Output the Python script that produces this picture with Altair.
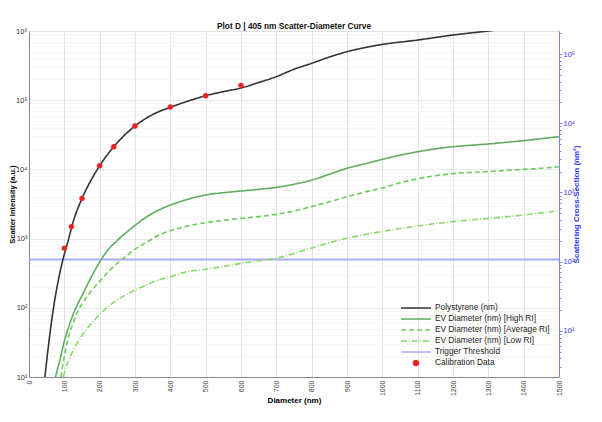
import altair as alt
import pandas as pd
import numpy as np

# ---------------- data ----------------
series_names = ["Polystyrene (nm)", "EV Diameter (nm) [High RI]",
                "EV Diameter (nm) [Average RI]", "EV Diameter (nm) [Low RI]",
                "Trigger Threshold", "Calibration Data"]

ps_d = [45, 55, 65, 75, 85, 97, 110, 125, 150, 175, 200, 240, 300, 350, 400, 450, 500,
        550, 600, 650, 700, 750, 800, 850, 900, 950, 1000, 1100, 1200, 1300, 1400, 1500]
ps_i = [10, 28, 70, 150, 280, 520, 900, 1750, 3800, 6900, 11300, 21300, 42400, 62000,
        79000, 97000, 116000, 133000, 150000, 180000, 219000, 280000, 341000, 420000,
        502000, 575000, 640000, 740000, 875000, 1000000, 1150000, 1300000]

hi_d = [75, 90, 100, 115, 130, 150, 175, 200, 225, 250, 275, 300, 325, 350, 375, 400, 425,
        450, 500, 550, 600, 650, 700, 750, 800, 850, 900, 950, 1000, 1050, 1100, 1150, 1200,
        1250, 1300, 1350, 1400, 1450, 1500]
hi_i = [10, 20, 33, 58, 93, 150, 270, 460, 700, 940, 1220, 1550, 1930, 2330, 2700, 3050,
        3380, 3700, 4270, 4600, 4870, 5150, 5500, 6100, 7000, 8500, 10400, 12000, 14000,
        16000, 18000, 19800, 21300, 22300, 23300, 24600, 26000, 27800, 29700]

av_d = [90, 100, 110, 125, 140, 160, 180, 200, 225, 250, 275, 300, 325, 350, 375, 400, 450,
        500, 550, 600, 650, 700, 750, 800, 850, 900, 950, 1000, 1050, 1100, 1150, 1200, 1250,
        1300, 1350, 1400, 1450, 1500]
av_i = [10, 20, 35, 60, 93, 135, 185, 240, 335, 440, 560, 700, 840, 1000, 1170, 1300, 1520,
        1700, 1830, 1960, 2080, 2240, 2500, 2900, 3400, 4030, 4700, 5400, 6400, 7300, 8100,
        8700, 9050, 9300, 9650, 10000, 10400, 10900]

lo_d = [97, 105, 115, 130, 150, 175, 200, 225, 250, 275, 300, 325, 350, 375, 400, 425, 450,
        500, 550, 600, 650, 700, 750, 800, 850, 900, 950, 1000, 1100, 1200, 1300, 1400, 1500]
lo_i = [10, 14, 19, 27, 40, 58, 80, 105, 130, 155, 180, 205, 235, 260, 280, 310, 335, 360,
        395, 440, 475, 520, 610, 730, 870, 1010, 1140, 1270, 1520, 1760, 1960, 2190, 2530]

threshold = [500]

cal_d = [100, 120, 150, 200, 240, 300, 400, 500, 600]
cal_i = [730, 1490, 3800, 11300, 21300, 42400, 79800, 116000, 164000]
cal_d_err = [8, 8, 8, 9, 9, 9, 9, 9, 10]
cal_i_rel = [0.08, 0.08, 0.08, 0.08, 0.08, 0.08, 0.08, 0.08, 0.08]

left_domain = [10, 1000000]
right_domain = [2.15, 215000]

x_ticks = list(range(0, 1600, 100))

series_colors = ["#333333", "#5fae5f", "#6ccc5a", "#86dc66", "#aaaaff", "#ee2222"]
series_dash = [[1, 0], [1, 0], [5, 3], [6, 2, 1, 2], [1, 0], [1, 0]]

# ---------------- tables ----------------
lines = pd.concat([
    pd.DataFrame({"d": ps_d, "i": ps_i, "series": series_names[0]}),
    pd.DataFrame({"d": hi_d, "i": hi_i, "series": series_names[1]}),
    pd.DataFrame({"d": av_d, "i": av_i, "series": series_names[2]}),
    pd.DataFrame({"d": lo_d, "i": lo_i, "series": series_names[3]}),
], ignore_index=True)

thr = pd.DataFrame({"i": threshold, "series": series_names[4]})

cal = pd.DataFrame({"d": cal_d, "i": cal_i, "series": series_names[5]})
cal["d_lo"] = cal["d"] - np.array(cal_d_err)
cal["d_hi"] = cal["d"] + np.array(cal_d_err)
cal["i_lo"] = cal["i"] * (1 - np.array(cal_i_rel))
cal["i_hi"] = cal["i"] * (1 + np.array(cal_i_rel))

right_df = pd.DataFrame({"cs": right_domain})

# ---------------- ticks ----------------
def log_ticks(lo, hi):
    vals = []
    for e in range(-1, 8):
        for m in range(1, 10):
            v = m * 10 ** e
            if lo * 0.999 <= v <= hi * 1.001:
                vals.append(v)
    return vals

left_vals = log_ticks(*left_domain)
right_vals = log_ticks(*right_domain)

is_major = "abs(log(datum.value)/LN10 - round(log(datum.value)/LN10)) < 0.000001"
sup_label = ("(" + is_major + ") ? '10' + ['⁰','¹','²','³','⁴','⁵','⁶','⁷'][round(log(datum.value)/LN10)] : ''")

FONT = "Liberation Sans"

x_scale = alt.Scale(domain=[0, 1500], nice=False)
x_axis = alt.Axis(title="Diameter (nm)", values=x_ticks, labelAngle=270,
                  format="d", labelOverlap=False,
                  labelFontSize=7, labelColor="#444444", ticks=False,
                  domainColor="#888888", gridColor="#e4e4e4",
                  titleFontSize=8, titleFontWeight="bold", titlePadding=1,
                  labelPadding=3)

y_scale = alt.Scale(type="log", domain=left_domain, nice=False)
y_axis = alt.Axis(title="Scatter Intensity (a.u.)", values=left_vals, labelExpr=sup_label,
                  labelFontSize=7.5, labelColor="#333333", labelPadding=2, ticks=False,
                  titleFontSize=7.5, titleFontWeight="bold", titleX=-17,
                  titleBaseline="middle",
                  domainColor="#888888", labelOverlap=False,
                  gridColor={"condition": {"test": is_major, "value": "#e0e0e0"}, "value": "#eeeeee"},
                  gridDash={"condition": {"test": is_major, "value": [1, 0]}, "value": [2, 2]})

color_scale = alt.Scale(domain=series_names, range=series_colors)
dash_scale = alt.Scale(domain=series_names, range=series_dash)

CAL_TEST = "datum.value == 'Calibration Data'"
DOT_PATH = "M -0.5 0 A 0.5 0.5 0 1 1 0.5 0 A 0.5 0.5 0 1 1 -0.5 0 Z"
LINE_PATH = "M -3 0 L 3 0"

legend = alt.Legend(
    title=None, orient="none", legendX=381, legendY=271, padding=0,
    labelFont=FONT, labelFontSize=8.3, labelColor="#222222", labelOffset=13,
    symbolType={"expr": CAL_TEST + " ? '" + DOT_PATH + "' : '" + LINE_PATH + "'"},
    symbolFillColor={"expr": CAL_TEST + " ? '#ee2222' : 'transparent'"},
    symbolSize=100, symbolStrokeWidth=1.5, rowPadding=1)

line_layer = alt.Chart(lines).mark_line(strokeWidth=1.6, clip=True, interpolate="monotone").encode(
    x=alt.X("d:Q", scale=x_scale, axis=x_axis),
    y=alt.Y("i:Q", scale=y_scale, axis=y_axis),
    color=alt.Color("series:N", scale=color_scale, legend=legend),
    strokeDash=alt.StrokeDash("series:N", scale=dash_scale, legend=legend),
    detail="series:N",
)

thr_layer = alt.Chart(thr).mark_rule(strokeWidth=2, clip=True).encode(
    y=alt.Y("i:Q", scale=y_scale, axis=y_axis),
    color=alt.Color("series:N", scale=color_scale, legend=legend),
)

xerr_layer = alt.Chart(cal).mark_rule(color="#ff9090", strokeWidth=1).encode(
    x=alt.X("d_lo:Q", scale=x_scale, axis=x_axis), x2="d_hi:Q",
    y=alt.Y("i:Q", scale=y_scale, axis=y_axis))
yerr_layer = alt.Chart(cal).mark_rule(color="#ff9090", strokeWidth=1).encode(
    x=alt.X("d:Q", scale=x_scale, axis=x_axis),
    y=alt.Y("i_lo:Q", scale=y_scale, axis=y_axis), y2="i_hi:Q")

pt_layer = alt.Chart(cal).mark_point(filled=True, size=28, opacity=1, shape="circle").encode(
    x=alt.X("d:Q", scale=x_scale, axis=x_axis),
    y=alt.Y("i:Q", scale=y_scale, axis=y_axis),
    color=alt.Color("series:N", scale=color_scale, legend=legend),
)

left = alt.layer(thr_layer, line_layer, xerr_layer, yerr_layer, pt_layer)

right = alt.Chart(right_df).mark_point(opacity=0).encode(
    y=alt.Y("cs:Q", scale=alt.Scale(type="log", domain=right_domain, nice=False),
            axis=alt.Axis(orient="right", title="Scattering Cross-Section  (nm²)",
                          values=right_vals, labelExpr=sup_label, labelFontSize=7.5,
                          labelColor="#3535ee", domainColor="#8080ff", tickColor="#8080ff",
                          tickSize={"condition": {"test": is_major, "value": 3}, "value": 2},
                          titleColor="#3535ee", titleFontSize=8, titleFontWeight="bold",
                          titleAngle=270, titlePadding=6, grid=False, labelPadding=1,
                          labelOverlap=False))
)

chart = alt.layer(left, right).resolve_scale(y="independent").properties(
    width=530, height=346,
    autosize=alt.AutoSizeParams(type="none"),
    padding={"left": 21, "top": 23, "right": 35, "bottom": 37},
    title=alt.TitleParams("Plot D | 405 nm Scatter-Diameter Curve", fontSize=8.3,
                          fontWeight="bold", font=FONT, color="#111111", offset=-3),
).configure_view(stroke="#b0b0b0").configure_axis(
    labelFont=FONT, titleFont=FONT, titleColor="#222222"
).configure_axisX(labelOverlap=False).configure(background="white")

chart.save("out.html", embed_options={"renderer": "svg", "actions": False})
